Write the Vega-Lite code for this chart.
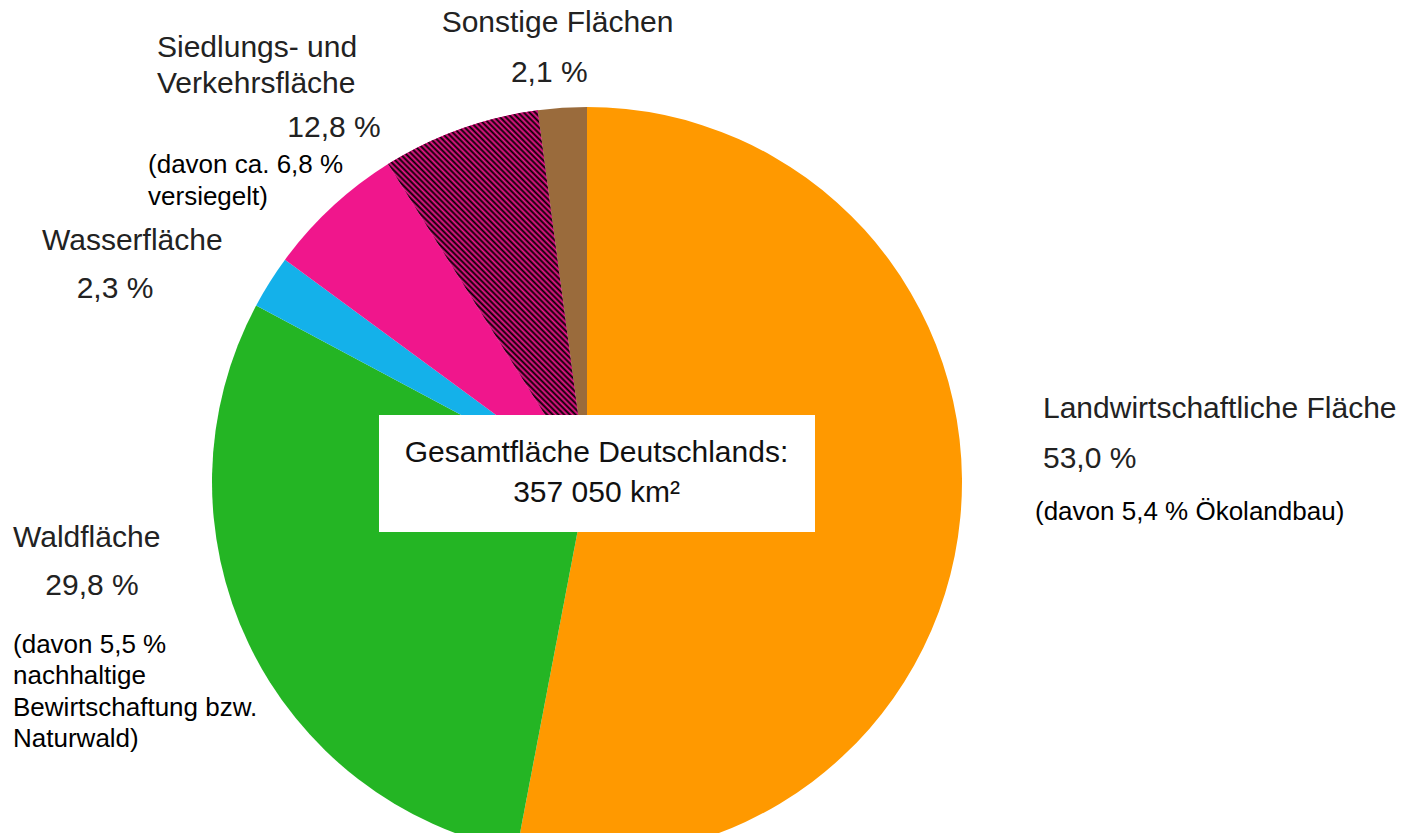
{
 "$schema": "https://vega.github.io/schema/vega-lite/v6.json",
 "width": 1174,
 "height": 702,
 "autosize": "none",
 "padding": {"left": 0, "top": 131, "right": 231, "bottom": 0},
 "background": "white",
 "config": {"view": {"stroke": null}, "text": {"font": "Liberation Sans"}},
 "data": {"values": [
  {"part": "Landwirtschaft", "order": 1, "value": 53.0, "name": "Landwirtschaftliche Fläche", "pct": "53,0 %", "note": "(davon 5,4 % Ökolandbau)"},
  {"part": "Wald", "order": 2, "value": 29.8, "name": "Waldfläche", "pct": "29,8 %", "note": "(davon 5,5 %\nnachhaltige\nBewirtschaftung bzw.\nNaturwald)"},
  {"part": "Wasser", "order": 3, "value": 2.3, "name": "Wasserfläche", "pct": "2,3 %", "note": ""},
  {"part": "Siedlung unversiegelt", "order": 4, "value": 6.0, "name": "Siedlungs- und\nVerkehrsfläche", "pct": "12,8 %", "note": "(davon ca. 6,8 %\nversiegelt)"},
  {"part": "Siedlung versiegelt", "order": 5, "value": 6.8, "name": "", "pct": "", "note": ""},
  {"part": "Sonstige", "order": 6, "value": 2.1, "name": "Sonstige Flächen", "pct": "2,1 %", "note": ""}
 ]},
 "transform": [{"stack": "value", "groupby": [], "sort": [{"field": "order", "order": "ascending"}], "as": ["v0", "v1"]}],
 "layer": [
  {
   "mark": {"type": "arc", "radius": 375, "strokeWidth": 0},
   "encoding": {
    "theta": {"field": "v0", "type": "quantitative", "scale": {"domain": [0, 100]}, "stack": null},
    "theta2": {"field": "v1"},
    "color": {"field": "part", "type": "nominal", "legend": null,
     "scale": {"domain": ["Landwirtschaft", "Wald", "Wasser", "Siedlung unversiegelt", "Siedlung versiegelt", "Sonstige"],
               "range": ["#ff9900", "#24b524", "#14b1ea", "#f0168c", "#f0168c", "#9a6b3c"]}}
   }
  },
  {
   "transform": [{"filter": "datum.part == 'Siedlung versiegelt'"}],
   "mark": {"type": "arc", "radius": 375, "strokeWidth": 0,
    "fill": {"gradient": "linear", "x1": 1, "y1": 0, "x2": 0.363, "y2": 1.19, "stops": [
{"offset":0,"color":"#f0168c"},{"offset":0.005,"color":"#000"},{"offset":0.01,"color":"#f0168c"},{"offset":0.015,"color":"#000"},{"offset":0.02,"color":"#f0168c"},{"offset":0.025,"color":"#000"},{"offset":0.03,"color":"#f0168c"},{"offset":0.035,"color":"#000"},{"offset":0.04,"color":"#f0168c"},{"offset":0.045,"color":"#000"},
{"offset":0.05,"color":"#f0168c"},{"offset":0.055,"color":"#000"},{"offset":0.06,"color":"#f0168c"},{"offset":0.065,"color":"#000"},{"offset":0.07,"color":"#f0168c"},{"offset":0.075,"color":"#000"},{"offset":0.08,"color":"#f0168c"},{"offset":0.085,"color":"#000"},{"offset":0.09,"color":"#f0168c"},{"offset":0.095,"color":"#000"},
{"offset":0.1,"color":"#f0168c"},{"offset":0.105,"color":"#000"},{"offset":0.11,"color":"#f0168c"},{"offset":0.115,"color":"#000"},{"offset":0.12,"color":"#f0168c"},{"offset":0.125,"color":"#000"},{"offset":0.13,"color":"#f0168c"},{"offset":0.135,"color":"#000"},{"offset":0.14,"color":"#f0168c"},{"offset":0.145,"color":"#000"},
{"offset":0.15,"color":"#f0168c"},{"offset":0.155,"color":"#000"},{"offset":0.16,"color":"#f0168c"},{"offset":0.165,"color":"#000"},{"offset":0.17,"color":"#f0168c"},{"offset":0.175,"color":"#000"},{"offset":0.18,"color":"#f0168c"},{"offset":0.185,"color":"#000"},{"offset":0.19,"color":"#f0168c"},{"offset":0.195,"color":"#000"},
{"offset":0.2,"color":"#f0168c"},{"offset":0.205,"color":"#000"},{"offset":0.21,"color":"#f0168c"},{"offset":0.215,"color":"#000"},{"offset":0.22,"color":"#f0168c"},{"offset":0.225,"color":"#000"},{"offset":0.23,"color":"#f0168c"},{"offset":0.235,"color":"#000"},{"offset":0.24,"color":"#f0168c"},{"offset":0.245,"color":"#000"},
{"offset":0.25,"color":"#f0168c"},{"offset":0.255,"color":"#000"},{"offset":0.26,"color":"#f0168c"},{"offset":0.265,"color":"#000"},{"offset":0.27,"color":"#f0168c"},{"offset":0.275,"color":"#000"},{"offset":0.28,"color":"#f0168c"},{"offset":0.285,"color":"#000"},{"offset":0.29,"color":"#f0168c"},{"offset":0.295,"color":"#000"},
{"offset":0.3,"color":"#f0168c"},{"offset":0.305,"color":"#000"},{"offset":0.31,"color":"#f0168c"},{"offset":0.315,"color":"#000"},{"offset":0.32,"color":"#f0168c"},{"offset":0.325,"color":"#000"},{"offset":0.33,"color":"#f0168c"},{"offset":0.335,"color":"#000"},{"offset":0.34,"color":"#f0168c"},{"offset":0.345,"color":"#000"},
{"offset":0.35,"color":"#f0168c"},{"offset":0.355,"color":"#000"},{"offset":0.36,"color":"#f0168c"},{"offset":0.365,"color":"#000"},{"offset":0.37,"color":"#f0168c"},{"offset":0.375,"color":"#000"},{"offset":0.38,"color":"#f0168c"},{"offset":0.385,"color":"#000"},{"offset":0.39,"color":"#f0168c"},{"offset":0.395,"color":"#000"},
{"offset":0.4,"color":"#f0168c"},{"offset":0.405,"color":"#000"},{"offset":0.41,"color":"#f0168c"},{"offset":0.415,"color":"#000"},{"offset":0.42,"color":"#f0168c"},{"offset":0.425,"color":"#000"},{"offset":0.43,"color":"#f0168c"},{"offset":0.435,"color":"#000"},{"offset":0.44,"color":"#f0168c"},{"offset":0.445,"color":"#000"},
{"offset":0.45,"color":"#f0168c"},{"offset":0.455,"color":"#000"},{"offset":0.46,"color":"#f0168c"},{"offset":0.465,"color":"#000"},{"offset":0.47,"color":"#f0168c"},{"offset":0.475,"color":"#000"},{"offset":0.48,"color":"#f0168c"},{"offset":0.485,"color":"#000"},{"offset":0.49,"color":"#f0168c"},{"offset":0.495,"color":"#000"},
{"offset":0.5,"color":"#f0168c"},{"offset":0.505,"color":"#000"},{"offset":0.51,"color":"#f0168c"},{"offset":0.515,"color":"#000"},{"offset":0.52,"color":"#f0168c"},{"offset":0.525,"color":"#000"},{"offset":0.53,"color":"#f0168c"},{"offset":0.535,"color":"#000"},{"offset":0.54,"color":"#f0168c"},{"offset":0.545,"color":"#000"},
{"offset":0.55,"color":"#f0168c"},{"offset":0.555,"color":"#000"},{"offset":0.56,"color":"#f0168c"},{"offset":0.565,"color":"#000"},{"offset":0.57,"color":"#f0168c"},{"offset":0.575,"color":"#000"},{"offset":0.58,"color":"#f0168c"},{"offset":0.585,"color":"#000"},{"offset":0.59,"color":"#f0168c"},{"offset":0.595,"color":"#000"},
{"offset":0.6,"color":"#f0168c"},{"offset":0.605,"color":"#000"},{"offset":0.61,"color":"#f0168c"},{"offset":0.615,"color":"#000"},{"offset":0.62,"color":"#f0168c"},{"offset":0.625,"color":"#000"},{"offset":0.63,"color":"#f0168c"},{"offset":0.635,"color":"#000"},{"offset":0.64,"color":"#f0168c"},{"offset":0.645,"color":"#000"},
{"offset":0.65,"color":"#f0168c"},{"offset":0.655,"color":"#000"},{"offset":0.66,"color":"#f0168c"},{"offset":0.665,"color":"#000"},{"offset":0.67,"color":"#f0168c"},{"offset":0.675,"color":"#000"},{"offset":0.68,"color":"#f0168c"},{"offset":0.685,"color":"#000"},{"offset":0.69,"color":"#f0168c"},{"offset":0.695,"color":"#000"},
{"offset":0.7,"color":"#f0168c"},{"offset":0.705,"color":"#000"},{"offset":0.71,"color":"#f0168c"},{"offset":0.715,"color":"#000"},{"offset":0.72,"color":"#f0168c"},{"offset":0.725,"color":"#000"},{"offset":0.73,"color":"#f0168c"},{"offset":0.735,"color":"#000"},{"offset":0.74,"color":"#f0168c"},{"offset":0.745,"color":"#000"},
{"offset":0.75,"color":"#f0168c"},{"offset":0.755,"color":"#000"},{"offset":0.76,"color":"#f0168c"},{"offset":0.765,"color":"#000"},{"offset":0.77,"color":"#f0168c"},{"offset":0.775,"color":"#000"},{"offset":0.78,"color":"#f0168c"},{"offset":0.785,"color":"#000"},{"offset":0.79,"color":"#f0168c"},{"offset":0.795,"color":"#000"},
{"offset":0.8,"color":"#f0168c"},{"offset":0.805,"color":"#000"},{"offset":0.81,"color":"#f0168c"},{"offset":0.815,"color":"#000"},{"offset":0.82,"color":"#f0168c"},{"offset":0.825,"color":"#000"},{"offset":0.83,"color":"#f0168c"},{"offset":0.835,"color":"#000"},{"offset":0.84,"color":"#f0168c"},{"offset":0.845,"color":"#000"},
{"offset":0.85,"color":"#f0168c"},{"offset":0.855,"color":"#000"},{"offset":0.86,"color":"#f0168c"},{"offset":0.865,"color":"#000"},{"offset":0.87,"color":"#f0168c"},{"offset":0.875,"color":"#000"},{"offset":0.88,"color":"#f0168c"},{"offset":0.885,"color":"#000"},{"offset":0.89,"color":"#f0168c"},{"offset":0.895,"color":"#000"},
{"offset":0.9,"color":"#f0168c"},{"offset":0.905,"color":"#000"},{"offset":0.91,"color":"#f0168c"},{"offset":0.915,"color":"#000"},{"offset":0.92,"color":"#f0168c"},{"offset":0.925,"color":"#000"},{"offset":0.93,"color":"#f0168c"},{"offset":0.935,"color":"#000"},{"offset":0.94,"color":"#f0168c"},{"offset":0.945,"color":"#000"},
{"offset":0.95,"color":"#f0168c"},{"offset":0.955,"color":"#000"},{"offset":0.96,"color":"#f0168c"},{"offset":0.965,"color":"#000"},{"offset":0.97,"color":"#f0168c"},{"offset":0.975,"color":"#000"},{"offset":0.98,"color":"#f0168c"},{"offset":0.985,"color":"#000"},{"offset":0.99,"color":"#f0168c"},{"offset":0.995,"color":"#000"},
{"offset":1,"color":"#f0168c"}
    ]}},
   "encoding": {
    "theta": {"field": "v0", "type": "quantitative", "scale": {"domain": [0, 100]}, "stack": null},
    "theta2": {"field": "v1"}
   }
  },
  {
   "transform": [{"filter": "datum.order == 1"}],
   "mark": {"type": "point", "shape": "M-0.9123,-0.2939H1V0.2193H-0.9123Z", "size": 207936, "filled": true, "color": "#ffffff", "opacity": 1, "strokeWidth": 0},
   "encoding": {}
  },
  {
   "transform": [{"filter": "datum.order == 1"}],
   "mark": {"type": "text", "align": "center", "baseline": "alphabetic", "dx": 9.5, "dy": -20, "fontSize": 30, "lineHeight": 40, "color": "#111111"},
   "encoding": {"text": {"value": ["Gesamtfläche Deutschlands:", "357 050 km²"]}}
  },
  {
   "transform": [{"filter": "datum.part == 'Landwirtschaft'"}],
   "mark": {"type": "text", "radius": 375, "align": "left", "baseline": "alphabetic", "dx": 456, "dy": 311, "fontSize": 30, "color": "#222222"},
   "encoding": {"theta": {"field": "v0", "type": "quantitative", "scale": {"domain": [0, 100]}, "stack": null}, "text": {"field": "name"}}
  },
  {
   "transform": [{"filter": "datum.part == 'Landwirtschaft'"}],
   "mark": {"type": "text", "radius": 375, "align": "left", "baseline": "alphabetic", "dx": 456, "dy": 361, "fontSize": 30, "color": "#222222"},
   "encoding": {"theta": {"field": "v0", "type": "quantitative", "scale": {"domain": [0, 100]}, "stack": null}, "text": {"field": "pct"}}
  },
  {
   "transform": [{"filter": "datum.part == 'Landwirtschaft'"}],
   "mark": {"type": "text", "radius": 375, "align": "left", "baseline": "alphabetic", "dx": 448, "dy": 413, "fontSize": 26, "color": "#000000"},
   "encoding": {"theta": {"field": "v0", "type": "quantitative", "scale": {"domain": [0, 100]}, "stack": null}, "text": {"field": "note"}}
  },
  {
   "transform": [{"filter": "datum.part == 'Wald'"}],
   "mark": {"type": "text", "radius": 375, "align": "left", "baseline": "alphabetic", "dx": -503.7, "dy": -303.4, "fontSize": 30, "color": "#222222"},
   "encoding": {"theta": {"field": "v0", "type": "quantitative", "scale": {"domain": [0, 100]}, "stack": null}, "text": {"field": "name"}}
  },
  {
   "transform": [{"filter": "datum.part == 'Wald'"}],
   "mark": {"type": "text", "radius": 375, "align": "center", "baseline": "alphabetic", "dx": -424.7, "dy": -255.4, "fontSize": 30, "color": "#222222"},
   "encoding": {"theta": {"field": "v0", "type": "quantitative", "scale": {"domain": [0, 100]}, "stack": null}, "text": {"field": "pct"}}
  },
  {
   "transform": [{"filter": "datum.part == 'Wald'"}],
   "mark": {"type": "text", "radius": 375, "align": "left", "baseline": "alphabetic", "dx": -503.7, "dy": -197.4, "fontSize": 26, "lineHeight": 31.3, "lineBreak": "\n", "color": "#000000"},
   "encoding": {"theta": {"field": "v0", "type": "quantitative", "scale": {"domain": [0, 100]}, "stack": null}, "text": {"field": "note"}}
  },
  {
   "transform": [{"filter": "datum.part == 'Wasser'"}],
   "mark": {"type": "text", "radius": 375, "align": "left", "baseline": "alphabetic", "dx": -214.1, "dy": -55.5, "fontSize": 30, "color": "#222222"},
   "encoding": {"theta": {"field": "v0", "type": "quantitative", "scale": {"domain": [0, 100]}, "stack": null}, "text": {"field": "name"}}
  },
  {
   "transform": [{"filter": "datum.part == 'Wasser'"}],
   "mark": {"type": "text", "radius": 375, "align": "center", "baseline": "alphabetic", "dx": -141.1, "dy": -7.5, "fontSize": 30, "color": "#222222"},
   "encoding": {"theta": {"field": "v0", "type": "quantitative", "scale": {"domain": [0, 100]}, "stack": null}, "text": {"field": "pct"}}
  },
  {
   "transform": [{"filter": "datum.part == 'Siedlung unversiegelt'"}],
   "mark": {"type": "text", "radius": 375, "align": "left", "baseline": "alphabetic", "dx": -128, "dy": -202.7, "fontSize": 30, "lineHeight": 36, "lineBreak": "\n", "color": "#222222"},
   "encoding": {"theta": {"field": "v0", "type": "quantitative", "scale": {"domain": [0, 100]}, "stack": null}, "text": {"field": "name"}}
  },
  {
   "transform": [{"filter": "datum.part == 'Siedlung unversiegelt'"}],
   "mark": {"type": "text", "radius": 375, "align": "center", "baseline": "alphabetic", "dx": 49, "dy": -122.7, "fontSize": 30, "color": "#222222"},
   "encoding": {"theta": {"field": "v0", "type": "quantitative", "scale": {"domain": [0, 100]}, "stack": null}, "text": {"field": "pct"}}
  },
  {
   "transform": [{"filter": "datum.part == 'Siedlung unversiegelt'"}],
   "mark": {"type": "text", "radius": 375, "align": "left", "baseline": "alphabetic", "dx": -137, "dy": -86.7, "fontSize": 26, "lineHeight": 32, "lineBreak": "\n", "color": "#000000"},
   "encoding": {"theta": {"field": "v0", "type": "quantitative", "scale": {"domain": [0, 100]}, "stack": null}, "text": {"field": "note"}}
  },
  {
   "transform": [{"filter": "datum.part == 'Sonstige'"}],
   "mark": {"type": "text", "radius": 375, "align": "center", "baseline": "alphabetic", "dx": 19.9, "dy": -78.3, "fontSize": 30, "color": "#222222"},
   "encoding": {"theta": {"field": "v0", "type": "quantitative", "scale": {"domain": [0, 100]}, "stack": null}, "text": {"field": "name"}}
  },
  {
   "transform": [{"filter": "datum.part == 'Sonstige'"}],
   "mark": {"type": "text", "radius": 375, "align": "center", "baseline": "alphabetic", "dx": 11.6, "dy": -28.3, "fontSize": 30, "color": "#222222"},
   "encoding": {"theta": {"field": "v0", "type": "quantitative", "scale": {"domain": [0, 100]}, "stack": null}, "text": {"field": "pct"}}
  }
 ]
}
